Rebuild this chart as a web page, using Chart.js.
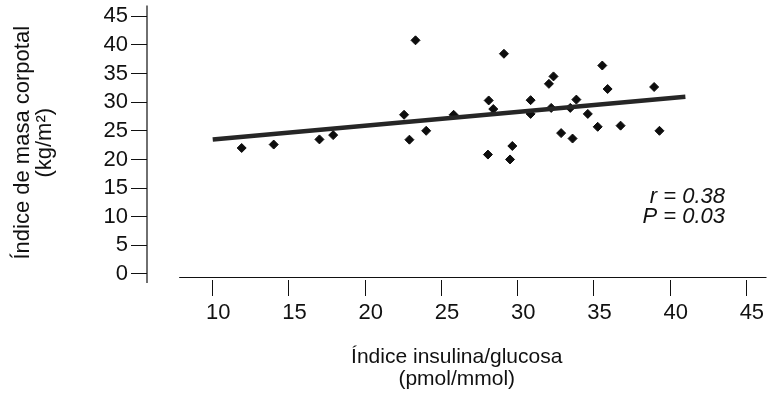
<!DOCTYPE html>
<html>
<head>
<meta charset="utf-8">
<script src="https://cdn.jsdelivr.net/npm/chart.js@4"></script>
<style>
  html, body { margin: 0; padding: 0; background: #fff; }
  #wrap { width: 772px; height: 396px; }
</style>
</head>
<body>
<div id="wrap"><canvas id="myChart" width="772" height="396"></canvas></div>
<script>
// tick labels
var xTicks = [10, 15, 20, 25, 30, 35, 40, 45];
var yTicks = [0, 5, 10, 15, 20, 25, 30, 35, 40, 45];

// insulin/glucose index (x) and body mass index (y)
var insulinIndex = [11.9, 14.0, 17.0, 17.9, 23.3, 22.55, 22.9, 24.0, 25.8,
  29.1, 28.1, 28.4, 28.05, 29.65, 29.5, 30.85, 30.85, 32.05, 32.35, 32.2,
  32.85, 33.45, 33.6, 33.85, 34.6, 35.25, 35.55, 35.9, 36.75, 38.95, 39.3];
var bmi = [22.0, 22.6, 23.5, 24.25, 40.8, 27.8, 23.45, 25.0, 27.8,
  38.45, 30.3, 28.8, 20.85, 22.35, 20.0, 30.35, 27.95, 33.2, 34.5, 29.0,
  24.6, 29.0, 23.65, 30.45, 27.95, 25.7, 36.4, 32.3, 25.9, 32.65, 25.0];

// regression line ends
var fitX = [10, 41];
var fitY = [23.5, 30.95];

var statsText = ['r = 0.38', 'P = 0.03'];

var FONT = '"Liberation Sans", Arial, Helvetica, sans-serif';
Chart.defaults.font.family = FONT;
Chart.defaults.color = '#111';

// draws the detached axis lines and the r / P note
var axisLines = {
  id: 'axisLines',
  afterDraw: function(chart) {
    var ctx = chart.ctx, a = chart.chartArea;
    var x = chart.scales.x, y = chart.scales.y;
    ctx.save();
    ctx.strokeStyle = '#111';
    ctx.lineWidth = 1.2;
    ctx.beginPath();
    ctx.moveTo(a.left, a.top);
    ctx.lineTo(a.left, a.bottom + 3);
    var yl = a.bottom - 2.5;
    ctx.moveTo(x.getPixelForValue(7.8), yl);
    ctx.lineTo(a.right, yl);
    ctx.stroke();

    ctx.font = 'italic 22px ' + FONT;
    ctx.fillStyle = '#111';
    ctx.textAlign = 'right';
    ctx.textBaseline = 'middle';
    for (var i = 0; i < statsText.length; i++) {
      ctx.fillText(statsText[i], x.getPixelForValue(43.6), y.getPixelForValue(13.4 - i * 3.4));
    }
    ctx.restore();
  }
};

var pts = insulinIndex.map(function(v, i) { return {x: v, y: bmi[i]}; });
var fit = fitX.map(function(v, i) { return {x: v, y: fitY[i]}; });

var ctx = document.getElementById('myChart').getContext('2d');
var chart = new Chart(ctx, {
  type: 'scatter',
  data: {
    datasets: [{
      type: 'line',
      data: fit,
      borderColor: '#262626',
      borderWidth: 4.5,
      pointRadius: 0,
      fill: false
    }, {
      data: pts,
      pointStyle: 'rectRot',
      pointRadius: 4.5,
      pointBorderWidth: 1,
      backgroundColor: '#0d0d0d',
      borderColor: '#0d0d0d'
    }]
  },
  options: {
    responsive: false,
    animation: false,
    layout: { padding: 0 },
    plugins: { legend: { display: false }, tooltip: { enabled: false } },
    scales: {
      x: {
        type: 'linear',
        min: 5.69,
        max: 46.32,
        afterBuildTicks: function(s) { s.ticks = xTicks.map(function(v) { return {value: v}; }); },
        afterFit: function(s) { s.height = 116; s.paddingLeft = 0; s.paddingRight = 0; },
        border: { display: false },
        grid: { drawOnChartArea: false, drawTicks: true, tickLength: 16, color: '#111', lineWidth: 1 },
        ticks: { font: { size: 22 }, padding: 4, labelOffset: 5.5, maxRotation: 0, autoSkip: false },
        title: {
          display: true,
          text: ['Índice insulina/glucosa', '(pmol/mmol)'],
          font: { size: 21, lineHeight: 1.05 },
          padding: { top: 0, bottom: 6 }
        }
      },
      y: {
        type: 'linear',
        min: -1.05,
        max: 46.88,
        afterBuildTicks: function(s) { s.ticks = yTicks.map(function(v) { return {value: v}; }); },
        afterFit: function(s) { s.width = 147; s.paddingTop = 0; s.paddingBottom = 0; },
        border: { display: false },
        grid: { drawOnChartArea: false, drawTicks: true, tickLength: 16, color: '#111', lineWidth: 1 },
        ticks: { font: { size: 22 }, padding: 3, autoSkip: false },
        title: {
          display: true,
          text: ['Índice de masa corpotal', '(kg/m²)'],
          font: { size: 22, lineHeight: 1.0 },
          padding: { top: 12, bottom: 0 }
        }
      }
    }
  },
  plugins: [axisLines]
});
</script>
</body>
</html>
